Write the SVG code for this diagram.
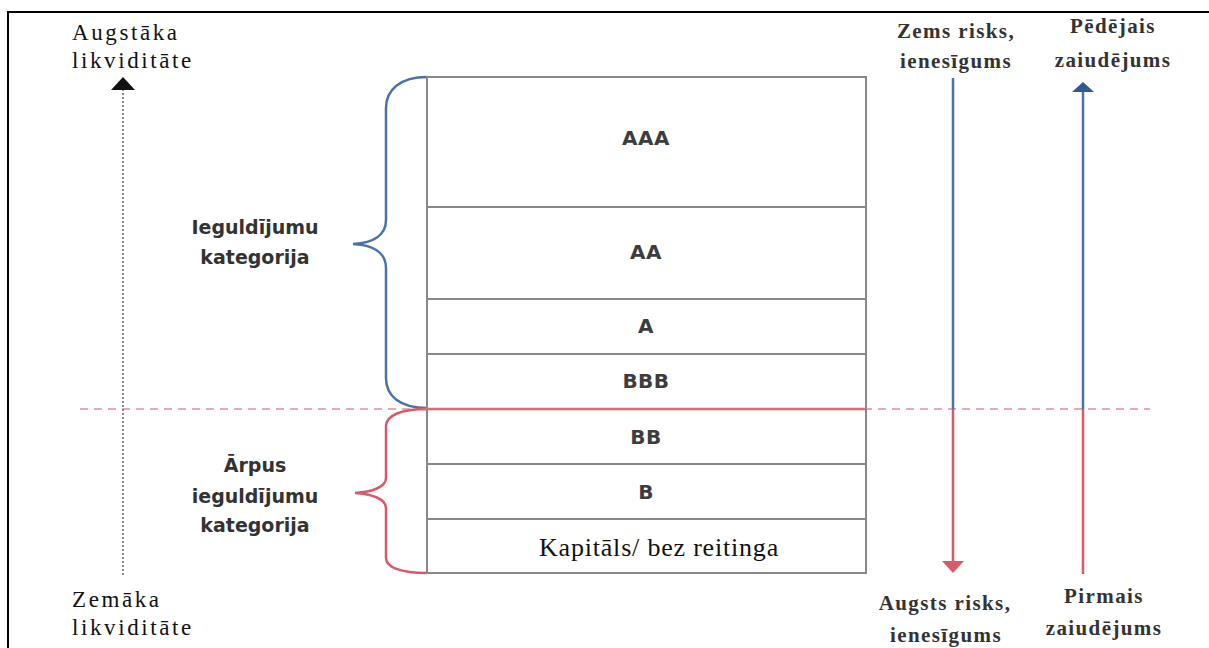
<svg xmlns="http://www.w3.org/2000/svg" width="1209" height="648" viewBox="0 0 1209 648">
<defs>
<style>
.rate{font-family:"DejaVu Sans","Open Sans",sans-serif;font-weight:bold;font-size:20px;fill:#3d3d3d;text-anchor:middle;letter-spacing:0.5px}
.cat{font-family:"DejaVu Sans","Open Sans",sans-serif;font-weight:bold;font-size:19px;fill:#333;text-anchor:middle}
.liq{font-family:"Liberation Serif","Times New Roman",serif;font-size:23px;fill:#111;letter-spacing:2.6px}
.side{font-family:"Liberation Serif","Times New Roman",serif;font-weight:bold;font-size:21px;fill:#333;text-anchor:middle;letter-spacing:1.4px}
.cell{fill:none;stroke:#888;stroke-width:2}
.blue{stroke:#4a72a8;stroke-width:2.5;fill:none}
.red{stroke:#d85a68;stroke-width:2.5;fill:none}
</style>
</defs>
<rect width="1209" height="648" fill="#ffffff"/>
<path d="M1209,12 H8 V648" fill="none" stroke="#000" stroke-width="2"/>

<g id="connectors">
  <line x1="80" y1="409" x2="1150" y2="409" stroke="#eaa8b0" stroke-width="2" stroke-dasharray="8 6"/>
  <line x1="123" y1="89" x2="123" y2="576" stroke="#888" stroke-width="2" stroke-dasharray="2 2"/>
  <polygon points="123,77 111,90 135,90" fill="#111"/>
  <line x1="953" y1="78" x2="953" y2="409" class="blue"/>
  <line x1="953" y1="409" x2="953" y2="563" class="red"/>
  <polygon points="953,573 942,561 964,561" fill="#d85a68"/>
  <line x1="1083" y1="574" x2="1083" y2="409" class="red"/>
  <line x1="1083" y1="409" x2="1083" y2="92" class="blue"/>
  <polygon points="1083,82 1072,92 1094,92" fill="#2f5a94"/>
  <path class="blue" d="M427,77 C400,77 386,90 386,108 L386,220 C386,236 372,243 353,244 C372,245 386,252 386,268 L386,378 C386,396 400,408 427,408"/>
  <path class="red" d="M427,409 C400,409 386,416 386,426 L386,478 C386,487 372,492 355,493 C372,494 386,499 386,508 L386,558 C386,567 400,573 427,573"/>
</g>

<g id="table">
  <rect class="cell" x="427" y="77" width="439" height="496"/>
  <line class="cell" x1="427" y1="207" x2="866" y2="207"/>
  <line class="cell" x1="427" y1="299" x2="866" y2="299"/>
  <line class="cell" x1="427" y1="354" x2="866" y2="354"/>
  <line class="cell" x1="427" y1="464" x2="866" y2="464"/>
  <line class="cell" x1="427" y1="519" x2="866" y2="519"/>
  <line x1="422" y1="409" x2="866" y2="409" stroke="#e06673" stroke-width="2.5"/>
</g>

<g id="node-aaa"><text class="rate" x="646" y="145">AAA</text></g>
<g id="node-aa"><text class="rate" x="646" y="259">AA</text></g>
<g id="node-a"><text class="rate" x="646" y="333">A</text></g>
<g id="node-bbb"><text class="rate" x="646" y="388">BBB</text></g>
<g id="node-bb"><text class="rate" x="646" y="444">BB</text></g>
<g id="node-b"><text class="rate" x="646" y="499">B</text></g>
<g id="node-kap"><text x="659" y="556" font-family="Liberation Serif, Times New Roman, serif" font-size="26" fill="#111" text-anchor="middle" letter-spacing="0.8">Kapitāls/ bez reitinga</text></g>

<g id="node-invest">
  <text class="cat" x="255" y="234">Ieguldījumu</text>
  <text class="cat" x="255" y="264">kategorija</text>
</g>
<g id="node-noninvest">
  <text class="cat" x="255" y="472">Ārpus</text>
  <text class="cat" x="255" y="503">ieguldījumu</text>
  <text class="cat" x="255" y="532">kategorija</text>
</g>

<g id="node-high-liq">
  <text class="liq" x="72" y="40">Augstāka</text>
  <text class="liq" x="72" y="68">likviditāte</text>
</g>
<g id="node-low-liq">
  <text class="liq" x="72" y="607">Zemāka</text>
  <text class="liq" x="72" y="635">likviditāte</text>
</g>

<g id="node-low-risk">
  <text class="side" x="956" y="38">Zems risks,</text>
  <text class="side" x="956" y="68">ienesīgums</text>
</g>
<g id="node-last-loss">
  <text class="side" x="1113" y="33">Pēdējais</text>
  <text class="side" x="1113" y="67">zaiudējums</text>
</g>
<g id="node-high-risk">
  <text class="side" x="945" y="610">Augsts risks,</text>
  <text class="side" x="946" y="642">ienesīgums</text>
</g>
<g id="node-first-loss">
  <text class="side" x="1104" y="603">Pirmais</text>
  <text class="side" x="1104" y="635">zaiudējums</text>
</g>
</svg>
